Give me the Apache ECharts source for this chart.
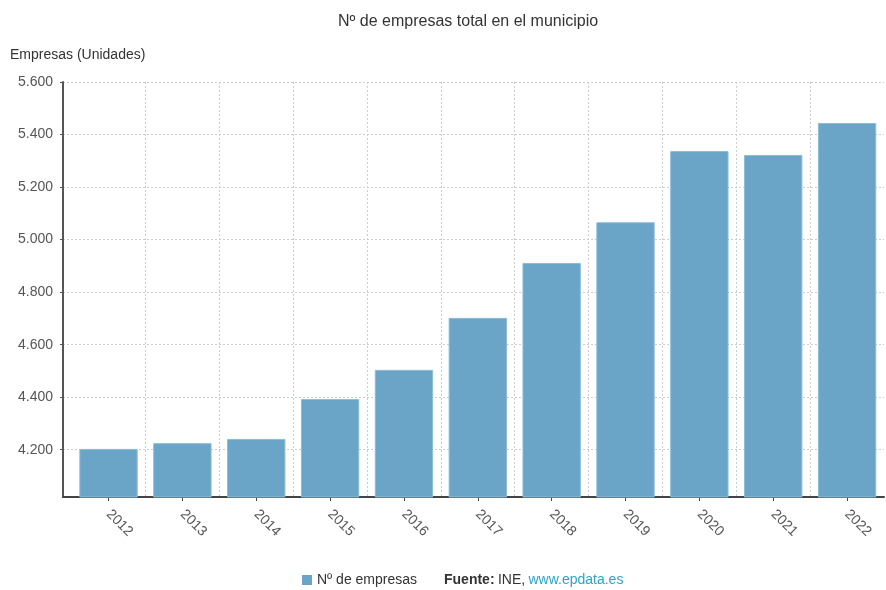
<!DOCTYPE html>
<html>
<head>
<meta charset="utf-8">
<script src="https://cdn.jsdelivr.net/npm/echarts@6/dist/echarts.min.js"></script>
<style>
html,body{margin:0;padding:0;background:#fff;}
#c{width:886px;height:590px;}
</style>
</head>
<body>
<div id="c"></div>
<script>
const years = ['2012','2013','2014','2015','2016','2017','2018','2019','2020','2021','2022'];
const empresas = [4203, 4225, 4241, 4393, 4504, 4702, 4911, 5066, 5337, 5322, 5444];
const yMin = 4020, yMax = 5600, yStep = 200;
const titleText = 'Nº de empresas total en el municipio';
const yName = 'Empresas (Unidades)';
const seriesName = 'Nº de empresas';

const fmt = v => String(Math.round(v)).replace(/\B(?=(\d{3})+(?!\d))/g, '.');
const FONT = '"Liberation Sans", Arial, sans-serif';

const chart = echarts.init(document.getElementById('c'), null, {renderer: 'canvas'});
chart.setOption({
  animation: false,
  textStyle: {fontFamily: FONT},
  title: {
    text: titleText, left: 333, top: 9,
    textStyle: {fontFamily: FONT, fontSize: 16, fontWeight: 'normal', color: '#333'}
  },
  grid: [
    {left: 63, right: 2, top: 82, bottom: 93},
    {left: 71.6, right: 2, top: 82, bottom: 93}
  ],
  xAxis: [
    {gridIndex: 0, type: 'value', min: 0, max: 1, show: true,
     axisLine: {show: true, lineStyle: {color: '#444', width: 2}},
     axisTick: {show: false}, axisLabel: {show: false}, splitLine: {show: false}},
    {gridIndex: 1, type: 'category', data: years,
     axisLine: {show: false},
     axisTick: {show: true, alignWithLabel: true, length: 4, lineStyle: {color: '#444'}},
     axisLabel: {rotate: -45, fontSize: 14, color: '#555', fontFamily: FONT, margin: 15},
     splitLine: {show: true, showMinLine: false, showMaxLine: false,
                 lineStyle: {color: '#ccc', type: [2, 2], width: 1}}}
  ],
  yAxis: [
    {gridIndex: 0, type: 'value', min: yMin, max: yMax, minInterval: yStep, maxInterval: yStep, splitNumber: 8,
     name: yName, nameLocation: 'end', nameGap: 20,
     nameTextStyle: {fontFamily: FONT, fontSize: 14, color: '#333', align: 'left', padding: [0, 0, 0, -53]},
     axisLine: {show: true, lineStyle: {color: '#555', width: 2}},
     axisTick: {show: true, length: 3, lineStyle: {color: '#555'}},
     axisLabel: {showMinLabel: false, formatter: fmt, fontSize: 14, color: '#555', margin: 10, fontFamily: FONT},
     splitLine: {show: true, showMinLine: false, lineStyle: {color: '#ccc', type: [2, 2], width: 1}}},
    {gridIndex: 1, type: 'value', min: yMin, max: yMax, minInterval: yStep, maxInterval: yStep, splitNumber: 8,
     show: false, splitLine: {show: false}}
  ],
  legend: {
    data: [seriesName], left: 297, top: 568, icon: 'rect', itemWidth: 10, itemHeight: 10, itemGap: 5,
    itemStyle: {borderWidth: 0},
    textStyle: {fontFamily: FONT, fontSize: 14, color: '#333'}
  },
  graphic: [{
    type: 'text', left: 444, top: 573,
    style: {
      text: '{b|Fuente:} {n|INE,} {l|www.epdata.es}',
      rich: {
        b: {fontFamily: FONT, fontSize: 14, fontWeight: 'bold', fill: '#333'},
        n: {fontFamily: FONT, fontSize: 14, fill: '#333'},
        l: {fontFamily: FONT, fontSize: 14, fill: '#2aa6c8'}
      }
    }
  }],
  series: [{
    name: seriesName, type: 'bar', xAxisIndex: 1, yAxisIndex: 1,
    data: empresas, barCategoryGap: '21%',
    itemStyle: {color: '#6aa5c8', borderColor: '#8cbcd8', borderWidth: 1}
  }]
});
</script>
</body>
</html>
